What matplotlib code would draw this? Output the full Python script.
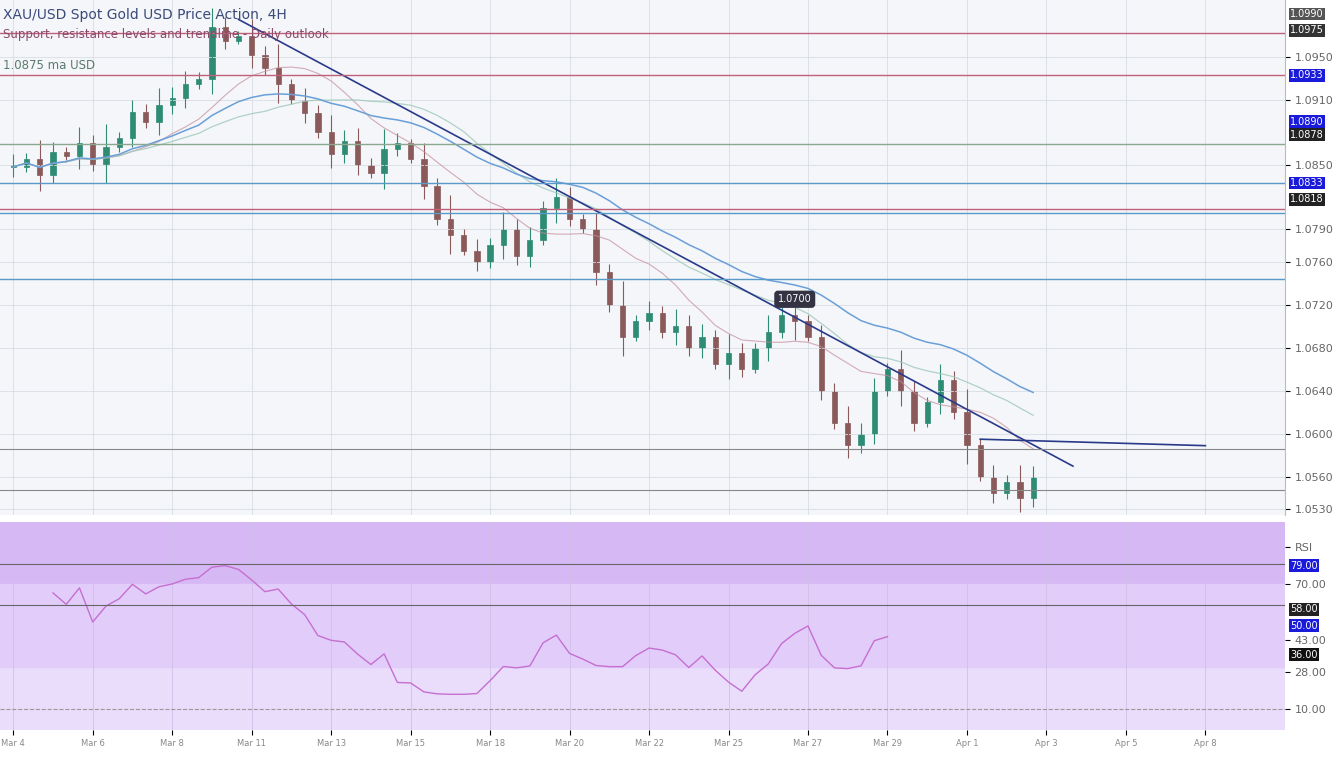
import matplotlib.pyplot as plt
import numpy as np
import pandas as pd

closes = [1.0848, 1.0855, 1.0840, 1.0862, 1.0858, 1.0870, 1.0851, 1.0866, 1.0875, 1.0899,
          1.0890, 1.0905, 1.0912, 1.0925, 1.0930, 1.0978, 1.0965, 1.0970, 1.0952, 1.0940,
          1.0925, 1.0910, 1.0898, 1.0880, 1.0860, 1.0872, 1.0850, 1.0842, 1.0865, 1.0870,
          1.0855, 1.0830, 1.0800, 1.0785, 1.0770, 1.0760, 1.0775, 1.0790, 1.0765, 1.0780,
          1.0810, 1.0820, 1.0800, 1.0790, 1.0750, 1.0720, 1.0690, 1.0705, 1.0712, 1.0695,
          1.0700, 1.0680, 1.0690, 1.0665, 1.0675, 1.0660, 1.0680, 1.0695, 1.0710, 1.0705,
          1.0690, 1.0640, 1.0610, 1.0590, 1.0600, 1.0640, 1.0660, 1.0640, 1.0610, 1.0630,
          1.0650, 1.0620, 1.0590, 1.0560, 1.0545, 1.0555, 1.0540, 1.0560]
wicks = [0.0012, 0.0006, 0.0018, 0.0009, 0.0004, 0.0015, 0.0008, 0.0022, 0.0005, 0.0011, 0.0007, 0.0016, 0.0010]

res_lines = [1.0972, 1.0933, 1.0809]
mid_lines = [1.0869]
sup_lines = [1.0833, 1.0805, 1.0744]
grey_lines = [1.0586, 1.0548]
trend_x = [17, 80]
trend_y = [1.0985, 1.0570]
flat_x = [73, 90]
flat_y = [1.0595, 1.0589]

price_ticks = [1.0950, 1.0910, 1.0850, 1.0790, 1.0760, 1.0720, 1.0680, 1.0640, 1.0600, 1.0560, 1.0530]
boxed_ticks = [(1.0990, '#555555'), (1.0975, '#333333'), (1.0933, '#1a1adb'), (1.0890, '#1a1adb'),
               (1.0878, '#222222'), (1.0833, '#1a1adb'), (1.0818, '#222222')]
rsi_ticks = [88, 70, 43, 28, 10]
rsi_tick_labels = ['RSI', '70.00', '43.00', '28.00', '10.00']
rsi_boxes = [(79, '#1a1adb'), (58, '#222222'), (50, '#1a1adb'), (36, '#111111')]
date_labels = ['Mar 4', 'Mar 6', 'Mar 8', 'Mar 11', 'Mar 13', 'Mar 15', 'Mar 18', 'Mar 20', 'Mar 22',
               'Mar 25', 'Mar 27', 'Mar 29', 'Apr 1', 'Apr 3', 'Apr 5', 'Apr 8']

up_col, dn_col = '#2e8b74', '#8a5a5a'

fig = plt.figure(figsize=(13.44, 7.68), dpi=100)
fig.patch.set_facecolor('white')
ax = fig.add_axes([0.0, 0.33, 0.956, 0.67])
rx = fig.add_axes([0.0, 0.05, 0.956, 0.27], sharex=ax)

n = len(closes)
x = np.arange(n)
opens = [closes[0]] + closes[:-1]
for i in range(n):
    o, c = opens[i], closes[i]
    w = wicks[i % len(wicks)]
    col = up_col if c >= o else dn_col
    ax.vlines(i, min(o, c) - w * 0.8, max(o, c) + w, color=col, lw=0.8)
    ax.bar(i, max(abs(c - o), 0.0002), bottom=min(o, c), width=0.4, color=col, edgecolor=col, lw=0.5)

s = pd.Series(closes)
ax.plot(x, s.rolling(10, min_periods=1).mean(), color='#c48a9a', lw=0.8, alpha=0.7)
ax.plot(x, s.rolling(20, min_periods=1).mean(), color='#9ec9b8', lw=0.9, alpha=0.8)
ax.plot(x, s.ewm(span=30).mean(), color='#6a9fd8', lw=1.1)
ax.plot(trend_x, trend_y, color='#2a3a8a', lw=1.2)
ax.plot(flat_x, flat_y, color='#2a3a8a', lw=1.2)

for y in res_lines:
    ax.axhline(y, color='#c0607a', lw=1)
for y in mid_lines:
    ax.axhline(y, color='#8aa890', lw=1)
for y in sup_lines:
    ax.axhline(y, color='#5a9ac8', lw=1)
for y in grey_lines:
    ax.axhline(y, color='#888888', lw=0.8)

ax.set_xlim(-1, 96)
ax.set_ylim(1.0525, 1.1003)
ax.set_facecolor('#f4f6f9')
ax.grid(True, color='#d8dde4', lw=0.6)
ax.yaxis.tick_right()
ax.set_yticks(price_ticks)
ax.set_yticklabels([f'{p:.4f}' for p in price_ticks], fontsize=8, color='#666666')
for p, c in boxed_ticks:
    ax.text(1.004, p, f'{p:.4f}', transform=ax.get_yaxis_transform(), fontsize=7, color='white',
            va='center', bbox=dict(boxstyle='square,pad=0.15', fc=c, ec='none'))
ax.tick_params(axis='x', labelbottom=False, length=0)
for sp in ax.spines.values():
    sp.set_visible(False)
ax.spines['right'].set_visible(True)
ax.spines['right'].set_color('#bbbbbb')

ax.text(0.002, 0.985, 'XAU/USD Spot Gold USD Price Action, 4H', transform=ax.transAxes,
        fontsize=10, color='#3a4a7a', va='top')
ax.text(0.002, 0.945, 'Support, resistance levels and trendline - Daily outlook', transform=ax.transAxes,
        fontsize=8.5, color='#8a4a6a', va='top')
ax.text(0.002, 0.885, '1.0875 ma USD', transform=ax.transAxes, fontsize=8.5, color='#5a7a6a', va='top')
ax.annotate('1.0700', xy=(59, 1.0725), fontsize=7, color='white', ha='center', va='center',
            bbox=dict(boxstyle='round,pad=0.3', fc='#333344', ec='#333344'))

rsi_diff = s.diff()
gain = rsi_diff.clip(lower=0).rolling(14, min_periods=1).mean()
loss = (-rsi_diff.clip(upper=0)).rolling(14, min_periods=1).mean()
rsi = 100 - 100 / (1 + gain / (loss + 1e-9))
rx.set_facecolor('#eadcfb')
rx.axhspan(70, 100, color='#d6b8f5')
rx.axhspan(30, 70, color='#e2ccfa')
rx.plot(x[3:67], rsi[3:67], color='#c56fd0', lw=1)
rx.axhline(80, color='#666666', lw=0.8)
rx.axhline(60, color='#666666', lw=0.8)
rx.axhline(10, color='#999999', lw=0.8, ls='--')
rx.set_ylim(0, 100)
rx.yaxis.tick_right()
rx.set_yticks(rsi_ticks)
rx.set_yticklabels(rsi_tick_labels, fontsize=8, color='#666666')
for p, c in rsi_boxes:
    rx.text(1.004, p, f'{p:.2f}', transform=rx.get_yaxis_transform(), fontsize=7, color='white',
            va='center', bbox=dict(boxstyle='square,pad=0.15', fc=c, ec='none'))
rx.grid(True, axis='x', color='#cfc0e6', lw=0.6)
rx.set_xticks(np.arange(0, 96, 6))
rx.set_xticklabels(date_labels, fontsize=6, color='#888888')
for sp in rx.spines.values():
    sp.set_visible(False)

fig.savefig('out.png', dpi=100)
